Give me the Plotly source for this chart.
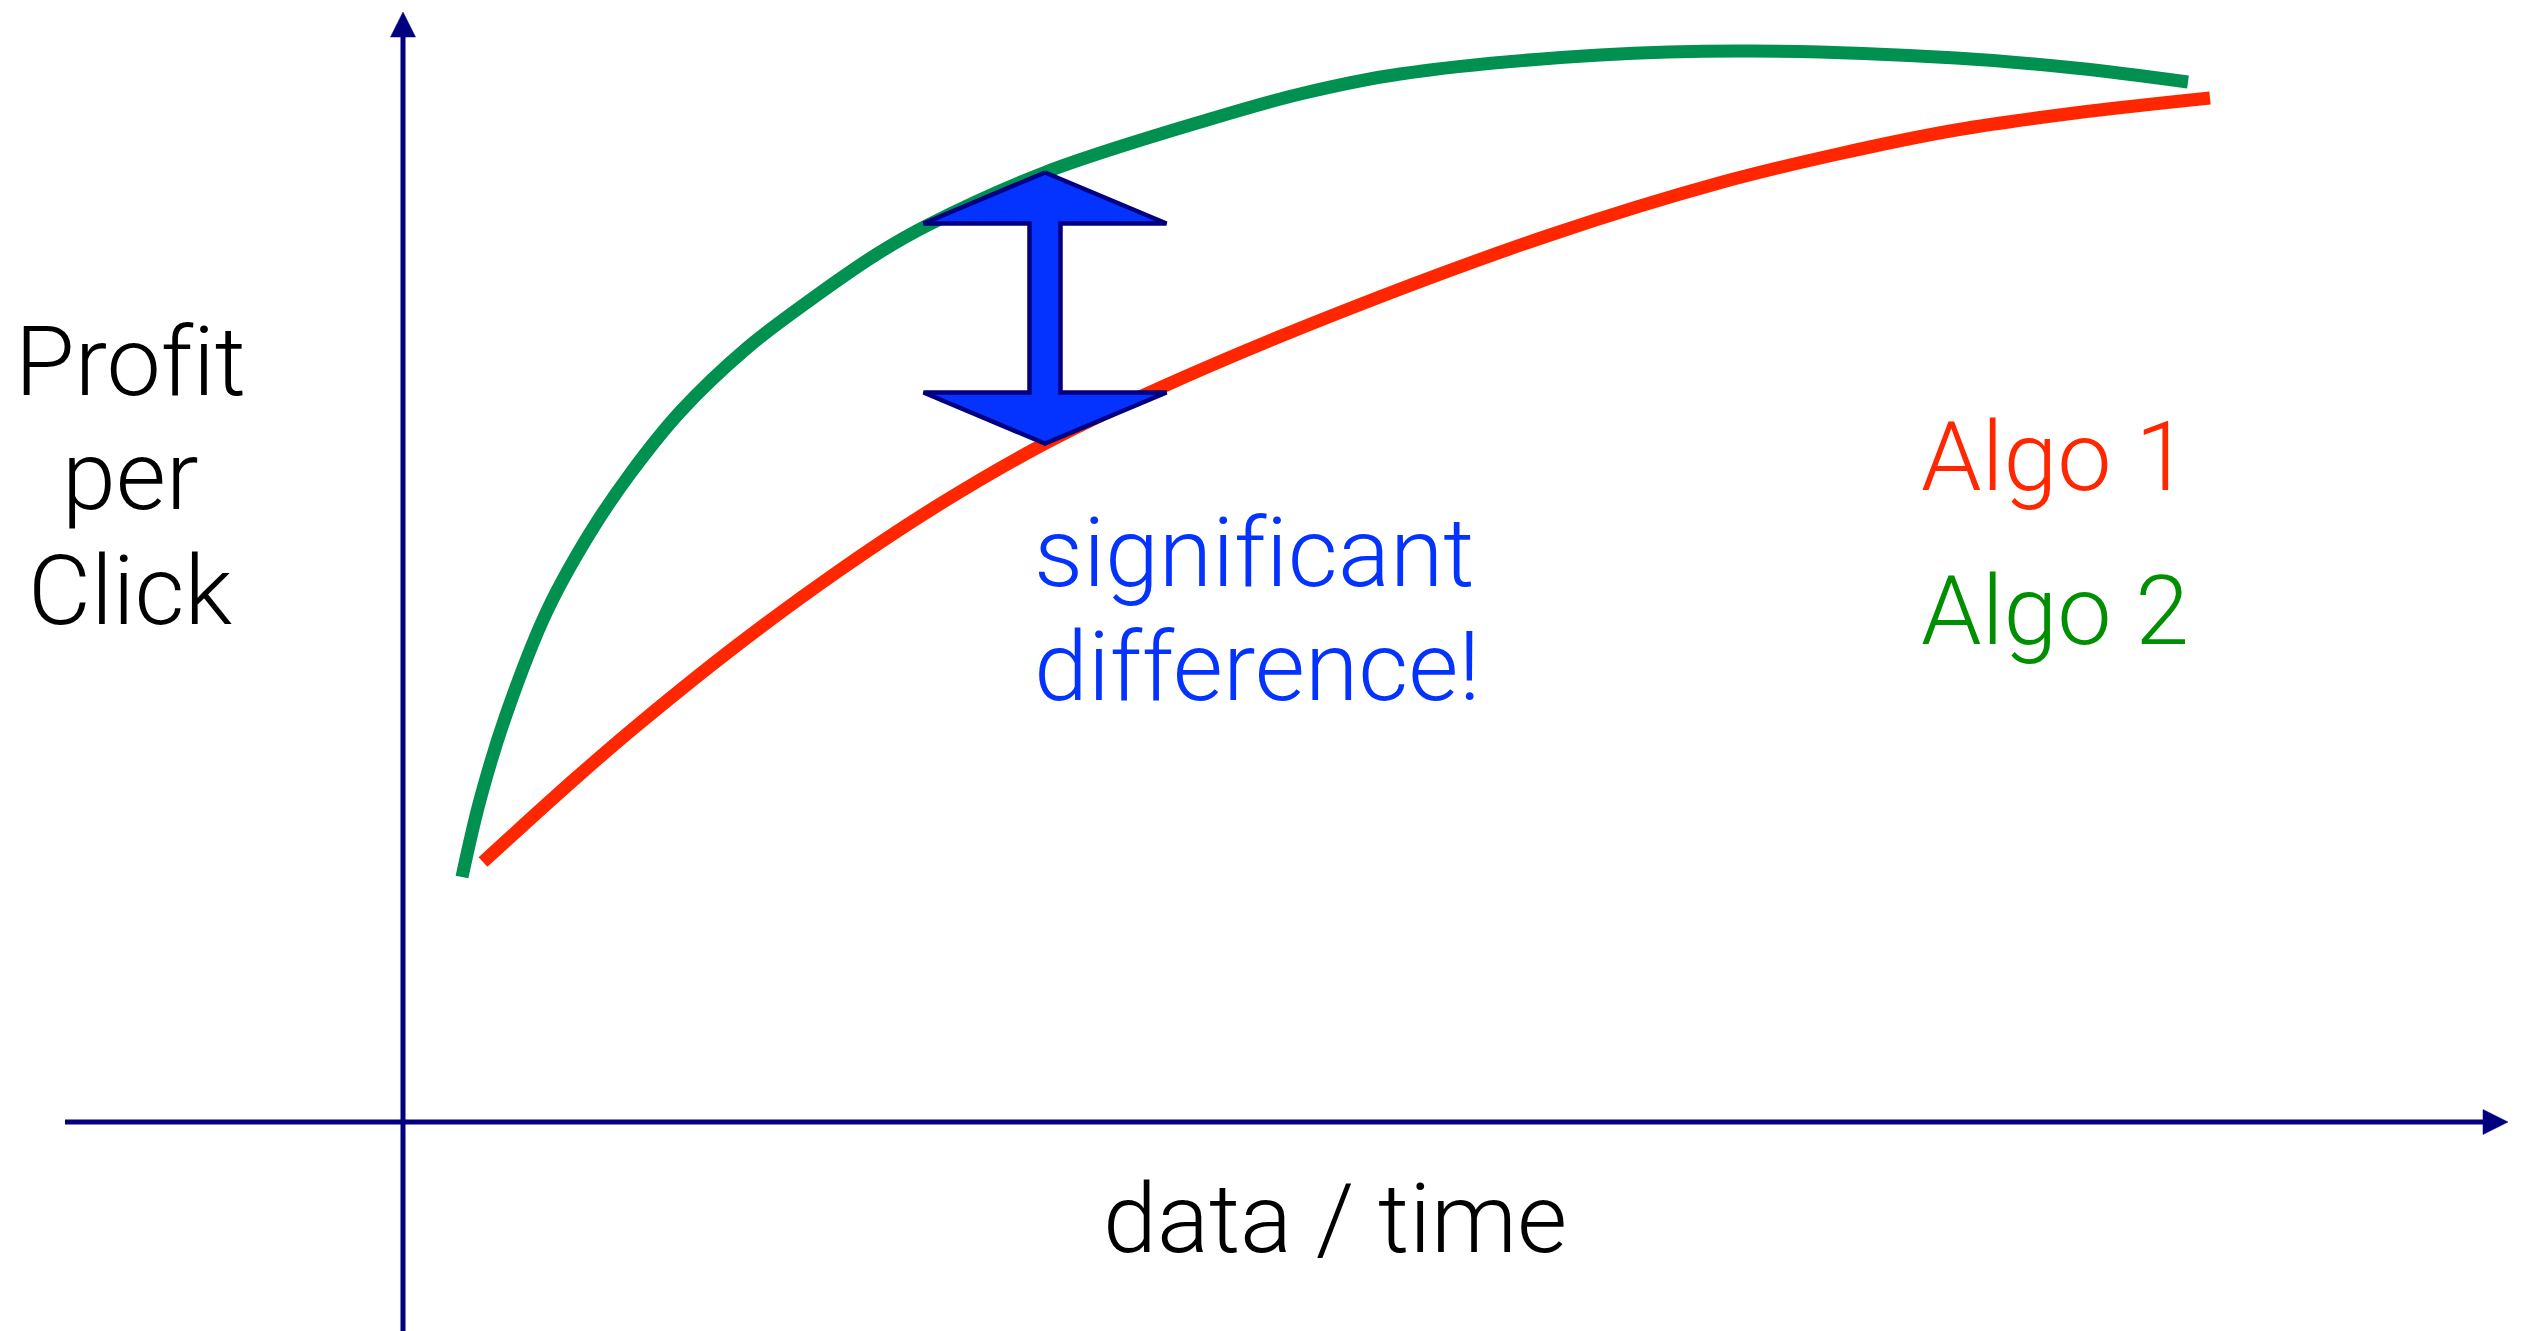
import numpy as np
import plotly.graph_objects as go

# ---- data (arbitrary units, origin at the axis crossing) ----
algo2_x = [5.9, 7.7, 10.3, 14.4, 18.7, 22.7, 27.7, 34.4, 41.0, 47.4, 52.3, 64.3, 80.4,
           89.7, 99.7, 119.7, 134.7, 155.3, 167.2, 178.5]
algo2_y = [24.5, 32.2, 40.7, 51.1, 58.9, 64.8, 71.0, 77.4, 82.4, 86.8, 89.6, 95.0, 100.2,
           102.8, 104.8, 106.7, 107.1, 106.4, 105.4, 104.0]
algo1_x = [8.0, 17.4, 23.7, 33.7, 43.7, 53.7, 64.1, 75.9, 93.8, 114.7, 131.6, 143.5,
           155.3, 167.2, 180.7]
algo1_y = [26.0, 34.5, 39.9, 47.9, 55.2, 61.8, 67.8, 73.5, 81.0, 88.7, 93.9, 96.8,
           99.2, 100.9, 102.4]
diff_x = 64.2

y_label_lines = ["Profit", "per", "Click"]
x_label = "data / time"
diff_lines = ["significant", "difference!"]
legend_lines = ["Algo 1", "Algo 2"]

# ---- styles ----
NAVY = "#000080"
RED = "#FF2600"
GREEN_LINE = "#00904F"
GREEN_TEXT = "#008F00"
BLUE = "#0433FF"
FONT = "Roboto"
FS = 97

X_RANGE = [-40.3, 212.8]
Y_RANGE = [-20.9, 112.2]
x_axis_from, x_axis_to = -33.8, 210.5
y_axis_from, y_axis_to = -25.0, 111.0
head_len, head_half = 2.5, 1.25

fig = go.Figure()

# curves
fig.add_trace(go.Scatter(x=algo2_x, y=algo2_y, mode="lines",
                         line=dict(color=GREEN_LINE, width=13, shape="spline", smoothing=1.0),
                         hoverinfo="skip"))
fig.add_trace(go.Scatter(x=algo1_x, y=algo1_y, mode="lines",
                         line=dict(color=RED, width=13, shape="spline", smoothing=1.0),
                         hoverinfo="skip"))

# double arrow between the curves
top = float(np.interp(diff_x, algo2_x, algo2_y))
bot = float(np.interp(diff_x, algo1_x, algo1_y))
hh, hw, sw = 5.1, 12.15, 1.55
ax = [diff_x, diff_x + hw, diff_x + sw, diff_x + sw, diff_x + hw, diff_x,
      diff_x - hw, diff_x - sw, diff_x - sw, diff_x - hw, diff_x]
ay = [top, top - hh, top - hh, bot + hh, bot + hh, bot,
      bot + hh, bot + hh, top - hh, top - hh, top]
fig.add_trace(go.Scatter(x=ax, y=ay, mode="lines", fill="toself", fillcolor=BLUE,
                         line=dict(color=NAVY, width=4.5), hoverinfo="skip"))

# axes with arrowheads
shapes = [
    dict(type="line", xref="x", yref="y", x0=x_axis_from, y0=0, x1=x_axis_to - head_len + 0.3, y1=0,
         line=dict(color=NAVY, width=5), layer="below"),
    dict(type="line", xref="x", yref="y", x0=0, y0=y_axis_from, x1=0, y1=y_axis_to - head_len + 0.3,
         line=dict(color=NAVY, width=5), layer="below"),
    dict(type="path", xref="x", yref="y",
         path=f"M {x_axis_to} 0 L {x_axis_to - head_len} {head_half} L {x_axis_to - head_len} {-head_half} Z",
         fillcolor=NAVY, line=dict(color=NAVY, width=0.5), layer="below"),
    dict(type="path", xref="x", yref="y",
         path=f"M 0 {y_axis_to} L {head_half} {y_axis_to - head_len} L {-head_half} {y_axis_to - head_len} Z",
         fillcolor=NAVY, line=dict(color=NAVY, width=0.5), layer="below"),
]

annotations = []
def txt(s, x, y, color, xanchor):
    annotations.append(dict(text=f'<span style="font-variant-ligatures:none">{s}</span>',
                            x=x, y=y, xref="x", yref="y", showarrow=False,
                            xanchor=xanchor, yanchor="middle", borderpad=0,
                            font=dict(family=FONT, size=FS, color=color, weight=300)))

for s, y in zip(y_label_lines, [76.0, 64.6, 53.1]):
    txt(s, -27.3, y, "black", "center")
txt(x_label, 93.2, -9.7, "black", "center")
for s, y in zip(diff_lines, [56.9, 45.5]):
    txt(s, 63.0, y, BLUE, "left")
txt(legend_lines[0], 151.7, 66.5, RED, "left")
txt(legend_lines[1], 151.7, 51.1, GREEN_TEXT, "left")

fig.update_layout(
    width=2531, height=1331, margin=dict(l=0, r=0, t=0, b=0),
    paper_bgcolor="white", plot_bgcolor="white", showlegend=False,
    xaxis=dict(range=X_RANGE, visible=False, fixedrange=True),
    yaxis=dict(range=Y_RANGE, visible=False, fixedrange=True),
    shapes=shapes, annotations=annotations,
)

post = ("document.body.style.margin='0';document.body.style.overflow='hidden';"
        "var st=document.createElement('style');"
        "st.textContent='text, tspan{font-variant-ligatures:none !important;}';"
        "document.head.appendChild(st);")
fig.write_html("out.html", config={"displayModeBar": False}, post_script=post)
